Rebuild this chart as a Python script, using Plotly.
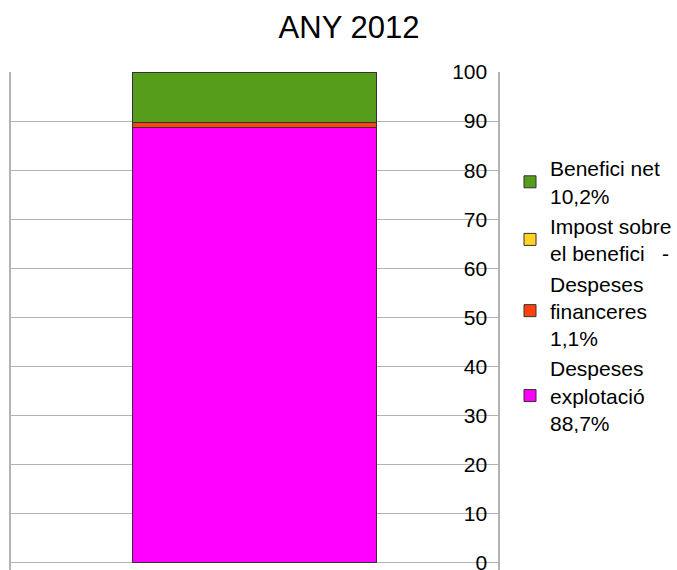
import plotly.graph_objects as go

# Cost breakdown for the year, as a share of revenue (%)
categories = ["2012"]
series_names = [
    "Despeses<br>explotació<br>88,7%",
    "Despeses<br>financeres<br>1,1%",
    "Impost sobre<br>el benefici\u00a0\u00a0\u00a0-",
    "Benefici net<br>10,2%",
]
series_values = [88.7, 1.1, 0.0, 10.2]
series_colors = ["#ff00ff", "#ff420e", "#ffd320", "#579d1c"]
y_ticks = [0, 10, 20, 30, 40, 50, 60, 70, 80, 90, 100]

FONT = "Liberation Sans, Arial, sans-serif"
GRID = "#b3b3b3"

fig = go.Figure()
for name, val, col in zip(series_names, series_values, series_colors):
    fig.add_trace(go.Bar(
        x=categories,
        y=[val],
        name=name,
        marker=dict(color=col, line=dict(color="#333333", width=1)),
        width=0.5,
        hoverinfo="skip",
    ))

fig.update_layout(
    width=677,
    height=570,
    barmode="stack",
    paper_bgcolor="white",
    plot_bgcolor="white",
    margin=dict(l=11, r=179, t=72, b=0, autoexpand=False),
    font=dict(family=FONT, size=21, color="#000000"),
    title=dict(
        text="ANY 2012",
        x=349 / 677,
        xanchor="center",
        xref="container",
        y=1 - 27 / 570,
        yanchor="middle",
        yref="container",
        font=dict(family=FONT, size=31, color="#000000"),
    ),
    showlegend=True,
    legend=dict(
        x=510 / 677,
        xref="container",
        xanchor="left",
        y=1 - 148 / 570,
        yref="container",
        yanchor="top",
        traceorder="reversed",
        font=dict(family=FONT, size=21, color="#000000"),
        bgcolor="rgba(0,0,0,0)",
        itemclick=False,
    ),
    xaxis=dict(
        type="category",
        range=[-0.5, 0.5],
        showticklabels=False,
        showgrid=False,
        zeroline=False,
        ticks="",
        fixedrange=True,
        automargin=False,
    ),
    yaxis=dict(
        range=[-1.43, 100],
        tickvals=y_ticks,
        side="right",
        ticklabelposition="inside",
        ticklabeloverflow="allow",
        ticklabelstandoff=12,
        showgrid=True,
        gridcolor=GRID,
        gridwidth=1,
        zeroline=False,
        showline=True,
        mirror=True,
        linecolor=GRID,
        linewidth=2,
        ticks="",
        automargin=False,
        tickfont=dict(family=FONT, size=21, color="#000000"),
    ),
)

fig.write_html("out.html")
